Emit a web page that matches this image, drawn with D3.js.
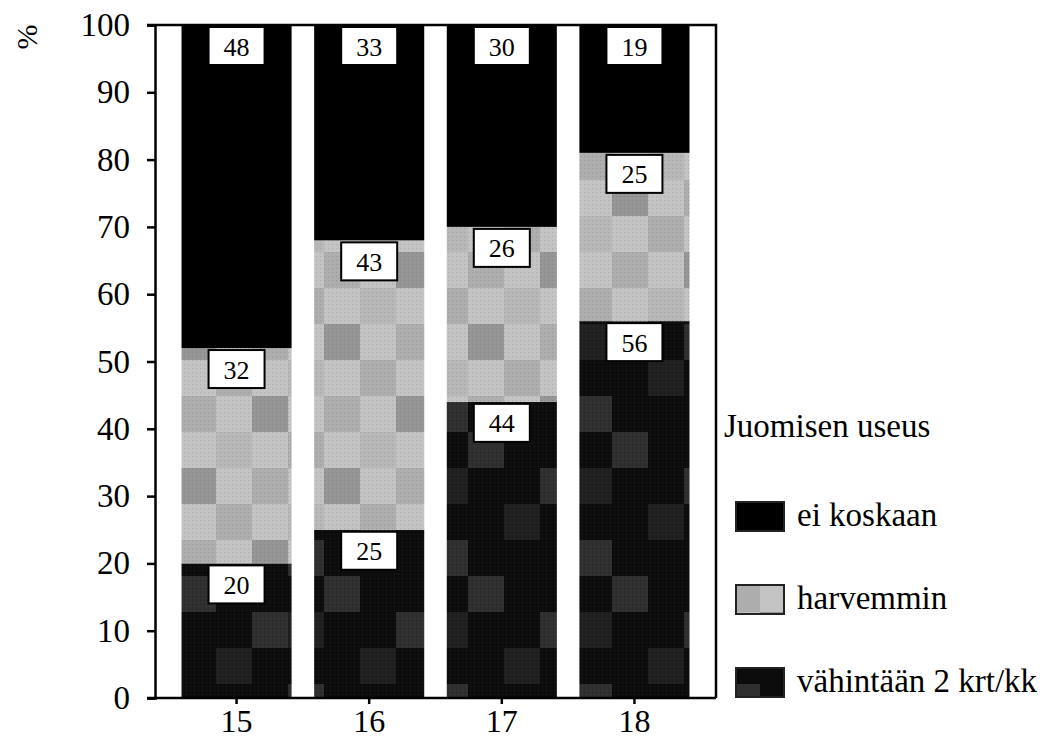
<!DOCTYPE html>
<html>
<head>
<meta charset="utf-8">
<script src="https://cdn.jsdelivr.net/npm/d3@7"></script>
<style>
  html, body { margin: 0; padding: 0; background: #fff; }
  svg { display: block; font-family: "Liberation Serif", "Times New Roman", serif; }
</style>
</head>
<body>
<svg id="chart" width="1056" height="738"></svg>
<script>
// Ikä (vuotta)
const categories = ["15", "16", "17", "18"];
// Juomisen useus, % ikäryhmästä
const vahintaan = [20, 25, 44, 56];   // vähintään 2 krt/kk
const harvemmin = [32, 43, 26, 25];   // harvemmin
const eiKoskaan = [48, 33, 30, 19];   // ei koskaan
const seriesKeys = ["vahintaan", "harvemmin", "eiKoskaan"];
const seriesLabels = ["vähintään 2 krt/kk", "harvemmin", "ei koskaan"];
const yTicks = [0, 10, 20, 30, 40, 50, 60, 70, 80, 90, 100];
const legendTitle = "Juomisen useus";
const yTitle = "%";

const rows = categories.map((c, i) => ({
  cat: c, vahintaan: vahintaan[i], harvemmin: harvemmin[i], eiKoskaan: eiKoskaan[i]
}));

const svg = d3.select("#chart");
const plotL = 155, plotR = 716, plotT = 25, plotB = 698;
const bigFont = 33;

const x = d3.scaleBand().domain(categories).range([plotL, plotR])
  .paddingInner(0.17).paddingOuter(0.2);
const y = d3.scaleLinear().domain([0, 100]).range([plotB, plotT]);

// Mottled fills: a grid of grey blocks per pattern
const defs = svg.append("defs");
function blockPattern(id, base, cells, size, shades) {
  const p = defs.append("pattern").attr("id", id)
    .attr("patternUnits", "userSpaceOnUse")
    .attr("width", size * cells[0].length).attr("height", size * cells.length);
  p.append("rect").attr("width", size * cells[0].length).attr("height", size * cells.length).attr("fill", base);
  cells.forEach((row, r) => row.forEach((v, c) => {
    if (v > 0) p.append("rect").attr("x", c * size).attr("y", r * size)
      .attr("width", size).attr("height", size).attr("fill", shades[v]);
  }));
  // fine dither dots
  const dot = defs.append("pattern").attr("id", id + "-dots")
    .attr("patternUnits", "userSpaceOnUse").attr("width", 4).attr("height", 4);
  dot.append("rect").attr("width", 1).attr("height", 1).attr("fill", "rgba(0,0,0,0.12)");
  dot.append("rect").attr("x", 2).attr("y", 2).attr("width", 1).attr("height", 1).attr("fill", "rgba(255,255,255,0.08)");
}
blockPattern("pat-dark", "#0c0c0c", [
  [0, 1, 0, 0],
  [2, 0, 0, 1],
  [0, 0, 2, 0],
  [1, 0, 0, 0]
], 36, ["#0c0c0c", "#2f2f2f", "#1f1f1f"]);
blockPattern("pat-light", "#c3c3c3", [
  [1, 0, 2, 0],
  [0, 3, 0, 1],
  [2, 0, 1, 0],
  [0, 1, 0, 3]
], 36, ["#c3c3c3", "#adadad", "#b7b7b7", "#959595"]);

const fills = { vahintaan: "url(#pat-dark)", harvemmin: "url(#pat-light)", eiKoskaan: "#000" };

svg.append("clipPath").attr("id", "plot-clip")
  .append("rect").attr("x", plotL).attr("y", plotT).attr("width", plotR - plotL).attr("height", plotB - plotT);

const stacked = d3.stack().keys(seriesKeys)(rows);

const plot = svg.append("g").attr("clip-path", "url(#plot-clip)");
stacked.forEach(layer => {
  plot.append("g").selectAll("rect").data(layer).join("rect")
    .attr("x", d => x(d.data.cat))
    .attr("width", x.bandwidth())
    .attr("y", d => y(d[1]))
    .attr("height", d => y(d[0]) - y(d[1]))
    .attr("fill", fills[layer.key]);
  if (layer.key !== "eiKoskaan") {
    plot.append("g").selectAll("rect").data(layer).join("rect")
      .attr("x", d => x(d.data.cat))
      .attr("width", x.bandwidth())
      .attr("y", d => y(d[1]))
      .attr("height", d => y(d[0]) - y(d[1]))
      .attr("fill", "url(#pat-" + (layer.key === "vahintaan" ? "dark" : "light") + "-dots)");
  }
});

// Value boxes at the top of each segment
const boxW = 56, boxH = 38;
stacked.forEach(layer => {
  const g = svg.append("g");
  layer.forEach(d => {
    const cx = x(d.data.cat) + x.bandwidth() / 2;
    const yt = Math.max(y(Math.min(d[1], 100)), plotT) + 2;
    g.append("rect").attr("x", cx - boxW / 2).attr("y", yt)
      .attr("width", boxW).attr("height", boxH)
      .attr("fill", "#fff").attr("stroke", "#000").attr("stroke-width", 2);
    g.append("text").attr("x", cx).attr("y", yt + boxH / 2 + 1)
      .attr("text-anchor", "middle").attr("dominant-baseline", "central")
      .attr("font-size", 26).attr("fill", "#000")
      .text(d.data[layer.key]);
  });
});

// Axes
const yAxis = svg.append("g").attr("transform", `translate(${plotL},0)`)
  .call(d3.axisLeft(y).tickValues(yTicks).tickSize(8).tickPadding(17));
yAxis.select(".domain").attr("stroke", "#000").attr("stroke-width", 2.5);
yAxis.selectAll(".tick line").attr("stroke", "#000").attr("stroke-width", 2.5);
yAxis.selectAll(".tick text").attr("font-size", bigFont).attr("fill", "#000")
  .attr("font-family", "Liberation Serif, Times New Roman, serif");

const xAxis = svg.append("g").attr("transform", `translate(0,${plotB})`)
  .call(d3.axisBottom(x).tickSize(6).tickSizeOuter(0));
xAxis.select(".domain").attr("d", `M${plotL - 8},0H${plotR}`).attr("stroke", "#000").attr("stroke-width", 2.5);
xAxis.selectAll(".tick line").attr("stroke", "#000").attr("stroke-width", 2.5);
xAxis.selectAll(".tick text").attr("font-size", 32).attr("fill", "#000")
  .attr("font-family", "Liberation Serif, Times New Roman, serif")
  .attr("dy", null).attr("y", 34);

// Frame: top and right edges
svg.append("path").attr("d", `M${plotL - 8},${plotT}H${plotR}V${plotB}`)
  .attr("fill", "none").attr("stroke", "#000").attr("stroke-width", 2.5);

// Y title
svg.append("text").attr("transform", "translate(26,37) rotate(-90)")
  .attr("text-anchor", "middle").attr("dominant-baseline", "central")
  .attr("font-size", 30).text(yTitle);

// Legend
const lg = svg.append("g").attr("transform", "translate(724,0)");
lg.append("text").attr("x", 0).attr("y", 437).attr("font-size", bigFont).text(legendTitle);
const legendOrder = [2, 1, 0];
legendOrder.forEach((si, i) => {
  const yy = 502 + i * 83;
  const key = seriesKeys[si];
  lg.append("rect").attr("x", 12).attr("y", yy).attr("width", 48).attr("height", 29)
    .attr("fill", fills[key]).attr("stroke", "#222").attr("stroke-width", 2);
  lg.append("text").attr("x", 73).attr("y", yy + 24).attr("font-size", bigFont).text(seriesLabels[si]);
});
</script>
</body>
</html>
